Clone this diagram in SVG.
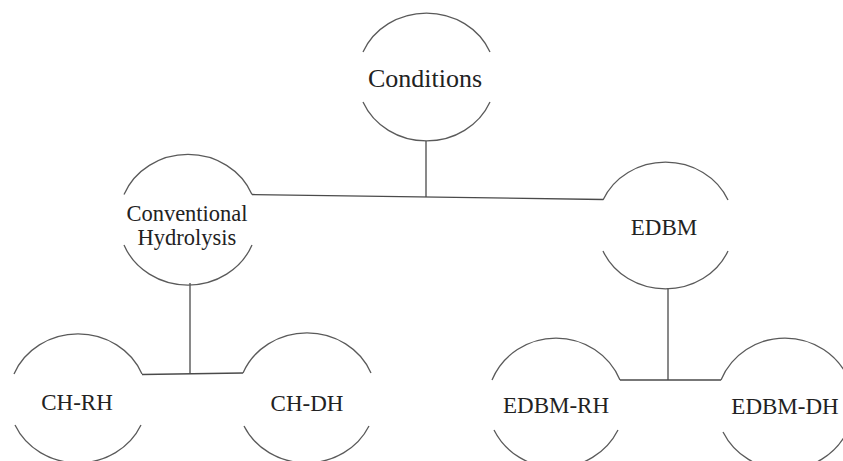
<svg xmlns="http://www.w3.org/2000/svg" width="843" height="461" viewBox="0 0 843 461">
<style>
.arc{fill:none;stroke:#5a5a5a;stroke-width:1.3}
.conn{fill:none;stroke:#4a4a4a;stroke-width:1.3}
.lbl{font-family:"Liberation Serif","Times New Roman",serif;font-size:23px;fill:#222;text-anchor:middle}
</style>
<rect width="843" height="461" fill="#fff"/>
<g id="connectors">
<line class="conn" x1="426" y1="141" x2="426" y2="197"/>
<line class="conn" x1="252" y1="194.5" x2="603" y2="199.5"/>
<line class="conn" x1="190" y1="283" x2="190" y2="374"/>
<line class="conn" x1="142" y1="374.5" x2="243" y2="373"/>
<line class="conn" x1="668" y1="288" x2="668" y2="380"/>
<line class="conn" x1="620" y1="380" x2="721" y2="380"/>
</g>
<g id="node-conditions">
<path class="arc" d="M363 52 A69 64 0 0 1 490 52"/>
<path class="arc" d="M363 102 A69 64 0 0 0 490 102"/>
<text class="lbl" x="425" y="87" style="font-size:26px">Conditions</text>
</g>
<g id="node-conventional">
<path class="arc" d="M124 194.5 A69 64 0 0 1 252 194.5"/>
<path class="arc" d="M124 245 A69 64 0 0 0 252 245"/>
<text class="lbl" x="187" y="220.5" style="font-size:22.5px">Conventional</text>
<text class="lbl" x="187" y="245" style="font-size:22.5px">Hydrolysis</text>
</g>
<g id="node-edbm">
<path class="arc" d="M603 200 A68 62.5 0 0 1 728 200"/>
<path class="arc" d="M603 251 A68 62.5 0 0 0 728 251"/>
<text class="lbl" x="664" y="235">EDBM</text>
</g>
<g id="node-ch-rh">
<path class="arc" d="M14 374 A69 64 0 0 1 142 374"/>
<path class="arc" d="M15 425 A69 64 0 0 0 141 425"/>
<text class="lbl" x="77" y="410">CH-RH</text>
</g>
<g id="node-ch-dh">
<path class="arc" d="M243 373 A69 64 0 0 1 371 373"/>
<path class="arc" d="M244 426 A69 64 0 0 0 369 426"/>
<text class="lbl" x="307" y="410.5">CH-DH</text>
</g>
<g id="node-edbm-rh">
<path class="arc" d="M492 380 A69 67 0 0 1 620 380"/>
<path class="arc" d="M494 430 A69 67 0 0 0 618 430"/>
<text class="lbl" x="556" y="413">EDBM-RH</text>
</g>
<g id="node-edbm-dh">
<path class="arc" d="M721 380 A69 67 0 0 1 849 380"/>
<path class="arc" d="M723 432 A69 67 0 0 0 847 432"/>
<text class="lbl" x="785" y="414">EDBM-DH</text>
</g>
</svg>
